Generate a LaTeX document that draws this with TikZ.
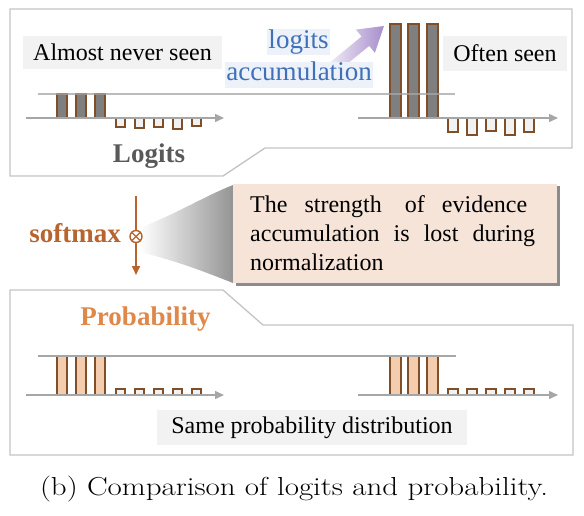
\documentclass[tikz,border=0pt]{standalone}
\usepackage{fontspec}
\usepackage{graphicx}
\newfontfamily\tnr{Liberation Serif}
\usetikzlibrary{arrows.meta,shadows}
\definecolor{panelline}{HTML}{C4C4C4}
\definecolor{grayfill}{HTML}{F2F2F2}
\definecolor{barbrown}{HTML}{7F4F2A}
\definecolor{darkbarfill}{HTML}{7F7F7F}
\definecolor{peachbar}{HTML}{F4CDAE}
\definecolor{axisgray}{HTML}{A6A6A6}
\definecolor{smcol}{HTML}{B8642F}
\definecolor{probcol}{HTML}{E0874A}
\definecolor{logitcol}{HTML}{595959}
\definecolor{bluetext}{HTML}{3F70B8}
\definecolor{bluebg}{HTML}{EDF2FA}
\definecolor{notefill}{HTML}{F6E4D9}
\definecolor{arrowdark}{HTML}{A78ECB}
\definecolor{arrowlight}{HTML}{EEE8F5}
\begin{document}
\begin{tikzpicture}[x=1pt,y=-1pt,
  panel/.style={draw=panelline,line width=1.3pt,fill=white,line join=miter},
  graybox/.style={fill=grayfill,inner sep=0pt,font=\tnr\fontsize{24}{28}\selectfont},
  bluebox/.style={fill=bluebg,inner xsep=1.5pt,inner ysep=1pt,text height=18pt,text depth=6pt,text=bluetext,font=\tnr\fontsize{27}{30}\selectfont},
  boldlabel/.style={inner sep=0pt,font=\tnr\bfseries\fontsize{27}{30}\selectfont},
  darkbar/.style={draw=barbrown,fill=darkbarfill,line width=1.1pt},
  negbar/.style={draw=barbrown,fill=grayfill,line width=1.1pt},
  probbar/.style={draw=barbrown,fill=peachbar,line width=1.1pt},
  axisline/.style={draw=axisgray,line width=1.5pt,-{Triangle[length=9pt,width=8pt]}},
  limitline/.style={draw=axisgray,line width=2pt},
  notetext/.style={inner sep=0pt,anchor=base west,font=\tnr\fontsize{24}{29}\selectfont}
]
\useasboundingbox (0,0) rectangle (584,516);

% ---------- Logits panel ----------
\draw[panel] (10,9) -- (572,9) -- (572,148) -- (265,148) -- (223,176) -- (10,176) -- cycle;

% left chart (almost never seen)
\foreach \x in {57,76,95} \draw[darkbar] (\x,94) rectangle ++(10,24);
\foreach \x/\h in {116/9,135/10,154/9,173/11,192/8} \draw[negbar] (\x,118) rectangle ++(9,\h);
\draw[axisline] (26,118) -- (224,118);

% right chart (often seen)
\foreach \x in {390,408,427} \draw[darkbar] (\x,24) rectangle ++(11,94);
\foreach \x/\h in {448/14,467/17,486/13,505/17,524/14} \draw[negbar] (\x,118) rectangle ++(10,\h);
\draw[axisline] (358,118) -- (558,118);

% upper limit line
\draw[limitline,opacity=0.75] (38,94.5) -- (455,94.5);

% accumulation arrow
\shade[left color=arrowlight,right color=arrowdark]
  (331.2,61.4) -- (361.6,36.5) -- (355.9,29.6) -- (384,26) -- (374.9,52.8) -- (369.2,45.9) -- (338.8,70.7) -- cycle;

\node[bluebox] (acc1) at (298.5,42.5) {logits};
\node[bluebox] (acc2) at (299,75) {accumulation};

\node[graybox,minimum width=199pt,minimum height=33pt] (never) at (122.5,52.5) {Almost never seen};
\node[graybox,minimum width=124pt,minimum height=35pt] (often) at (505,53.5) {Often seen};
\node[boldlabel,text=logitcol,anchor=base] (logits) at (149,163) {Logits};

% ---------- softmax ----------
\shade[left color=white,right color=black!42]
  (140,228) .. controls (180,212) and (205,196) .. (233,185) -- (233,283) .. controls (205,272) and (180,262) .. (140,252) -- cycle;

\node[fill=notefill,minimum width=324pt,minimum height=99pt,inner sep=0pt,
      drop shadow={shadow xshift=2.5pt,shadow yshift=-2.5pt,opacity=0.45,fill=black}] (note) at (395,233.5) {};
\node[notetext] (line1) at (250,212.5) {\makebox[277pt][s]{The strength\hspace{6pt} of evidence}};
\node[notetext] (line2) at (250,241.5) {\makebox[285pt][s]{accumulation is lost during}};
\node[notetext] (line3) at (250,270) {normalization};

\coordinate (smtop) at (136,196);
\coordinate (smbot) at (136,275);
\draw[smcol,line width=2pt,-{Triangle[length=9pt,width=8pt]}] (smtop) -- (smbot);
\node[circle,draw=smcol,fill=white,line width=1.4pt,minimum size=12pt,inner sep=0pt] (ox) at (136,236.5) {};
\draw[smcol,line width=1.4pt] (ox.north west) -- (ox.south east) (ox.north east) -- (ox.south west);
\node[boldlabel,text=smcol,anchor=base east] (softmax) at (121,242) {softmax};

% ---------- Probability panel ----------
\draw[panel] (10,290) -- (223,290) -- (263,325) -- (573,325) -- (573,455) -- (10,455) -- cycle;
\node[boldlabel,text=probcol,anchor=base] (prob) at (145.5,325) {Probability};

\foreach \x in {57,76,95} \draw[probbar] (\x,356) rectangle ++(10,39);
\foreach \x in {116,135,154,173,192} \draw[negbar] (\x,389) rectangle ++(9,6);
\draw[axisline] (26,395) -- (224,395);

\foreach \x in {390,408,427} \draw[probbar] (\x,356) rectangle ++(11,39);
\foreach \x in {448,467,486,505,524} \draw[negbar] (\x,389) rectangle ++(10,6);
\draw[axisline] (358,395) -- (558,395);

\draw[limitline] (38,356) -- (456,356);

\node[graybox,minimum width=310pt,minimum height=35pt] (same) at (312,427.5) {Same probability distribution};

% ---------- caption ----------
\node[anchor=base,inner sep=0pt] (cap) at (294,495) {\fontsize{26}{30}\selectfont\scalebox{1.19}[1]{(b) Comparison of logits and probability.}};
\end{tikzpicture}
\end{document}
